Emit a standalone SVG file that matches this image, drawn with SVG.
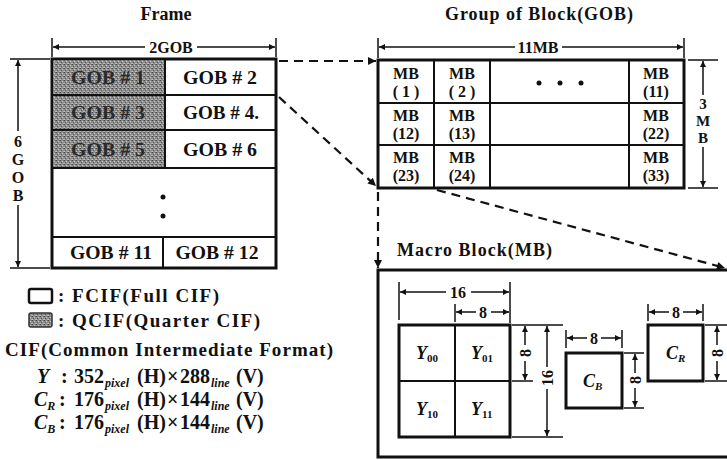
<svg xmlns="http://www.w3.org/2000/svg" width="727" height="460" viewBox="0 0 727 460">
<style>
text{font-family:"Liberation Serif","DejaVu Serif",serif;font-weight:bold;fill:#111}
.t{font-size:18px}
.l{font-size:19px}
.f{font-size:20px}
.g{font-size:19px}
.m{font-size:16px}
.d{font-size:16px}
.d3{font-size:15px}
.it{font-style:italic}
.sub{font-size:11px}
.sb{font-size:12px}
.box{fill:#fff;stroke:#111;stroke-width:3}
.ln{stroke:#111;stroke-width:2;fill:none}
.thin{stroke:#111;stroke-width:1.5;fill:none}
.dash{stroke:#111;stroke-width:2.2;fill:none;stroke-dasharray:9 6}
.shade{fill:url(#q)}
.st{fill:#2a2a2a}
</style>
<defs>
<pattern id="q" width="4" height="4" patternUnits="userSpaceOnUse">
<rect width="4" height="4" fill="#8d8d8d"/>
<rect x="0" y="0" width="1" height="1" fill="#444"/>
<rect x="2" y="1" width="1" height="1" fill="#c8c8c8"/>
<rect x="1" y="2" width="1" height="1" fill="#585858"/>
<rect x="3" y="3" width="1" height="1" fill="#b5b5b5"/>
<rect x="3" y="0" width="1" height="1" fill="#6a6a6a"/>
<rect x="0" y="3" width="1" height="1" fill="#c0c0c0"/>
</pattern>
<marker id="a" viewBox="0 0 10 10" refX="10" refY="5" markerWidth="8" markerHeight="6" markerUnits="userSpaceOnUse" orient="auto">
<path d="M0,0 L10,5 L0,10 z" fill="#111"/>
</marker>
<marker id="b" viewBox="0 0 10 10" refX="10" refY="5" markerWidth="12" markerHeight="8" markerUnits="userSpaceOnUse" orient="auto">
<path d="M0,0 L10,5 L0,10 z" fill="#111"/>
</marker>
</defs>

<!-- Titles -->
<text class="t" x="166" y="20" text-anchor="middle">Frame</text>
<text class="t" x="539" y="20" text-anchor="middle" textLength="188" lengthAdjust="spacing">Group of Block(GOB)</text>
<text class="t" x="397" y="256" textLength="155" lengthAdjust="spacing">Macro Block(MB)</text>

<!-- Frame node -->
<g id="frame">
<rect class="box" x="52" y="59" width="224" height="209"/>
<rect class="shade" x="53.5" y="60.5" width="111.5" height="107.5"/>
<line class="ln" x1="165" y1="59" x2="165" y2="168"/>
<line class="ln" x1="52" y1="95" x2="276" y2="95"/>
<line class="ln" x1="52" y1="130" x2="276" y2="130"/>
<line class="ln" x1="52" y1="168" x2="276" y2="168"/>
<line class="ln" x1="52" y1="237" x2="276" y2="237"/>
<line class="ln" x1="163" y1="237" x2="163" y2="268"/>
<text class="g st" x="108" y="84" text-anchor="middle" textLength="74" lengthAdjust="spacingAndGlyphs">GOB # 1</text>
<text class="g st" x="108" y="119" text-anchor="middle" textLength="74" lengthAdjust="spacingAndGlyphs">GOB # 3</text>
<text class="g st" x="108" y="156" text-anchor="middle" textLength="74" lengthAdjust="spacingAndGlyphs">GOB # 5</text>
<text class="g" x="220" y="84" text-anchor="middle" textLength="74" lengthAdjust="spacingAndGlyphs">GOB # 2</text>
<text class="g" x="221" y="119" text-anchor="middle" textLength="76" lengthAdjust="spacingAndGlyphs">GOB # 4.</text>
<text class="g" x="220" y="156" text-anchor="middle" textLength="74" lengthAdjust="spacingAndGlyphs">GOB # 6</text>
<circle cx="163" cy="197" r="2.5" fill="#111"/>
<circle cx="163" cy="216" r="2.5" fill="#111"/>
<text class="g" x="111" y="259" text-anchor="middle" textLength="82" lengthAdjust="spacingAndGlyphs">GOB # 11</text>
<text class="g" x="217" y="259" text-anchor="middle" textLength="83" lengthAdjust="spacingAndGlyphs">GOB # 12</text>
<!-- dims -->
<line class="thin" x1="52" y1="38" x2="52" y2="57"/>
<line class="thin" x1="276" y1="38" x2="276" y2="57"/>
<line class="thin" x1="145" y1="47" x2="53" y2="47" marker-end="url(#a)"/>
<line class="thin" x1="197" y1="47" x2="275" y2="47" marker-end="url(#a)"/>
<text class="d" x="171" y="53" text-anchor="middle">2GOB</text>
<line class="thin" x1="10" y1="59" x2="50" y2="59"/>
<line class="thin" x1="10" y1="268" x2="50" y2="268"/>
<line class="thin" x1="18" y1="131" x2="18" y2="60" marker-end="url(#a)"/>
<line class="thin" x1="18" y1="205" x2="18" y2="267" marker-end="url(#a)"/>
<text class="d" x="18" y="147" text-anchor="middle">6</text>
<text class="d" x="18" y="165" text-anchor="middle">G</text>
<text class="d" x="18" y="183" text-anchor="middle">O</text>
<text class="d" x="18" y="201" text-anchor="middle">B</text>
</g>

<!-- Legend -->
<g id="legend">
<rect x="29" y="289" width="23" height="14" rx="2" fill="#fff" stroke="#111" stroke-width="2.5"/>
<rect x="29" y="313" width="23" height="14" rx="2" fill="url(#q)" stroke="#333" stroke-width="1.5"/>
<text class="l" x="58" y="302" textLength="161" lengthAdjust="spacing">: FCIF(Full CIF)</text>
<text class="l" x="58" y="327" textLength="202" lengthAdjust="spacing">: QCIF(Quarter CIF)</text>
<text class="l" x="5" y="356" textLength="328" lengthAdjust="spacing">CIF(Common Intermediate Format)</text>
<text class="f"><tspan x="37" y="383" class="it">Y</tspan><tspan x="61" y="383">:</tspan><tspan x="74" y="383">352</tspan><tspan class="sb it" x="105" dy="4">pixel</tspan><tspan x="137" dy="-4">(H)</tspan><tspan x="167">×</tspan><tspan x="180">288</tspan><tspan class="sb it" x="211" dy="4">line</tspan><tspan x="236" dy="-4">(V)</tspan></text>
<text class="f"><tspan x="34" y="406" class="it">C</tspan><tspan class="sb it" dy="4">R</tspan><tspan x="59" dy="-4">:</tspan><tspan x="74" y="406">176</tspan><tspan class="sb it" x="105" dy="4">pixel</tspan><tspan x="137" dy="-4">(H)</tspan><tspan x="167">×</tspan><tspan x="180">144</tspan><tspan class="sb it" x="211" dy="4">line</tspan><tspan x="236" dy="-4">(V)</tspan></text>
<text class="f"><tspan x="34" y="429" class="it">C</tspan><tspan class="sb it" dy="4">B</tspan><tspan x="59" dy="-4">:</tspan><tspan x="74" y="429">176</tspan><tspan class="sb it" x="105" dy="4">pixel</tspan><tspan x="137" dy="-4">(H)</tspan><tspan x="167">×</tspan><tspan x="180">144</tspan><tspan class="sb it" x="211" dy="4">line</tspan><tspan x="236" dy="-4">(V)</tspan></text>
</g>

<!-- GOB node -->
<g id="gob">
<rect class="box" x="378" y="60" width="306" height="128"/>
<line class="ln" x1="378" y1="103" x2="684" y2="103"/>
<line class="ln" x1="378" y1="145" x2="684" y2="145"/>
<line class="ln" x1="434" y1="60" x2="434" y2="188"/>
<line class="ln" x1="490" y1="60" x2="490" y2="188"/>
<line class="ln" x1="629" y1="60" x2="629" y2="188"/>
<g class="m" text-anchor="middle">
<text x="406" y="79">MB</text><text x="406" y="97">( 1 )</text>
<text x="462" y="79">MB</text><text x="462" y="97">( 2 )</text>
<text x="656" y="79">MB</text><text x="656" y="97">(11)</text>
<text x="406" y="121">MB</text><text x="406" y="139">(12)</text>
<text x="462" y="121">MB</text><text x="462" y="139">(13)</text>
<text x="656" y="121">MB</text><text x="656" y="139">(22)</text>
<text x="406" y="163">MB</text><text x="406" y="181">(23)</text>
<text x="462" y="163">MB</text><text x="462" y="181">(24)</text>
<text x="656" y="163">MB</text><text x="656" y="181">(33)</text>
</g>
<circle cx="539" cy="83" r="2.5" fill="#111"/>
<circle cx="560" cy="83" r="2.5" fill="#111"/>
<circle cx="581" cy="83" r="2.5" fill="#111"/>
<line class="thin" x1="378" y1="38" x2="378" y2="58"/>
<line class="thin" x1="684" y1="38" x2="684" y2="58"/>
<line class="thin" x1="515" y1="47" x2="379" y2="47" marker-end="url(#a)"/>
<line class="thin" x1="562" y1="47" x2="683" y2="47" marker-end="url(#a)"/>
<text class="d" x="538" y="53" text-anchor="middle">11MB</text>
<line class="thin" x1="688" y1="60" x2="718" y2="60"/>
<line class="thin" x1="688" y1="188" x2="718" y2="188"/>
<line class="thin" x1="703" y1="95" x2="703" y2="61" marker-end="url(#a)"/>
<line class="thin" x1="703" y1="147" x2="703" y2="187" marker-end="url(#a)"/>
<text class="d3" x="703" y="109" text-anchor="middle">3</text>
<text class="d3" x="703" y="126" text-anchor="middle">M</text>
<text class="d3" x="703" y="143" text-anchor="middle">B</text>
</g>

<!-- Macro block node -->
<g id="mb">
<polyline points="727,270 378,270 378,457 727,457" fill="none" stroke="#111" stroke-width="3"/>
<rect class="box" x="399" y="325" width="111" height="112"/>
<line class="ln" x1="455" y1="325" x2="455" y2="437"/>
<line class="ln" x1="399" y1="381" x2="510" y2="381"/>
<text class="t"><tspan x="416" y="359" class="it">Y</tspan><tspan class="sub" dy="3">00</tspan></text>
<text class="t"><tspan x="471" y="359" class="it">Y</tspan><tspan class="sub" dy="3">01</tspan></text>
<text class="t"><tspan x="416" y="415" class="it">Y</tspan><tspan class="sub" dy="3">10</tspan></text>
<text class="t"><tspan x="471" y="415" class="it">Y</tspan><tspan class="sub" dy="3">11</tspan></text>
<rect class="box" x="566" y="353" width="56" height="55"/>
<text class="t"><tspan x="583" y="387" class="it">C</tspan><tspan class="sub it" dy="3">B</tspan></text>
<rect class="box" x="648" y="325" width="55" height="56"/>
<text class="t"><tspan x="666" y="359" class="it">C</tspan><tspan class="sub it" dy="3">R</tspan></text>
<!-- 16 horizontal -->
<line class="thin" x1="399" y1="282" x2="399" y2="320"/>
<line class="thin" x1="510" y1="282" x2="510" y2="323"/>
<line class="thin" x1="446" y1="292" x2="400" y2="292" marker-end="url(#a)"/>
<line class="thin" x1="471" y1="292" x2="509" y2="292" marker-end="url(#a)"/>
<text class="d" x="458" y="298" text-anchor="middle">16</text>
<!-- 8 horizontal -->
<line class="thin" x1="455" y1="304" x2="455" y2="322"/>
<line class="thin" x1="476" y1="312" x2="456" y2="312" marker-end="url(#a)"/>
<line class="thin" x1="491" y1="312" x2="509" y2="312" marker-end="url(#a)"/>
<text class="d" x="483" y="318" text-anchor="middle">8</text>
<!-- Y vertical dims -->
<line class="thin" x1="512" y1="325" x2="563" y2="325"/>
<line class="thin" x1="512" y1="381" x2="533" y2="381"/>
<line class="thin" x1="512" y1="437" x2="563" y2="437"/>
<line class="thin" x1="525" y1="345" x2="525" y2="326" marker-end="url(#a)"/>
<line class="thin" x1="525" y1="361" x2="525" y2="380" marker-end="url(#a)"/>
<text class="d" transform="translate(531,353) rotate(-90)" text-anchor="middle">8</text>
<line class="thin" x1="547" y1="367" x2="547" y2="326" marker-end="url(#a)"/>
<line class="thin" x1="547" y1="389" x2="547" y2="436" marker-end="url(#a)"/>
<text class="d" transform="translate(553,378) rotate(-90)" text-anchor="middle">16</text>
<!-- C_B dims -->
<line class="thin" x1="566" y1="330" x2="566" y2="348"/>
<line class="thin" x1="622" y1="330" x2="622" y2="348"/>
<line class="thin" x1="587" y1="338" x2="567" y2="338" marker-end="url(#a)"/>
<line class="thin" x1="601" y1="338" x2="621" y2="338" marker-end="url(#a)"/>
<text class="d" x="594" y="344" text-anchor="middle">8</text>
<line class="thin" x1="624" y1="353" x2="644" y2="353"/>
<line class="thin" x1="624" y1="408" x2="644" y2="408"/>
<line class="thin" x1="635" y1="373" x2="635" y2="354" marker-end="url(#a)"/>
<line class="thin" x1="635" y1="388" x2="635" y2="407" marker-end="url(#a)"/>
<text class="d" transform="translate(641,380) rotate(-90)" text-anchor="middle">8</text>
<!-- C_R dims -->
<line class="thin" x1="648" y1="304" x2="648" y2="321"/>
<line class="thin" x1="703" y1="304" x2="703" y2="321"/>
<line class="thin" x1="669" y1="312" x2="649" y2="312" marker-end="url(#a)"/>
<line class="thin" x1="683" y1="312" x2="702" y2="312" marker-end="url(#a)"/>
<text class="d" x="676" y="318" text-anchor="middle">8</text>
<line class="thin" x1="705" y1="325" x2="727" y2="325"/>
<line class="thin" x1="705" y1="381" x2="727" y2="381"/>
<line class="thin" x1="717" y1="345" x2="717" y2="326" marker-end="url(#a)"/>
<line class="thin" x1="717" y1="361" x2="717" y2="380" marker-end="url(#a)"/>
<text class="d" transform="translate(723,353) rotate(-90)" text-anchor="middle">8</text>
</g>

<!-- Connectors -->
<g id="connectors">
<line class="dash" x1="279" y1="61" x2="376" y2="61" marker-end="url(#b)"/>
<line class="dash" x1="279" y1="97" x2="376" y2="186" marker-end="url(#b)"/>
<line class="dash" x1="378" y1="192" x2="378" y2="268" marker-end="url(#b)"/>
<line class="dash" x1="437" y1="190" x2="725" y2="268" marker-end="url(#b)"/>
</g>
</svg>
